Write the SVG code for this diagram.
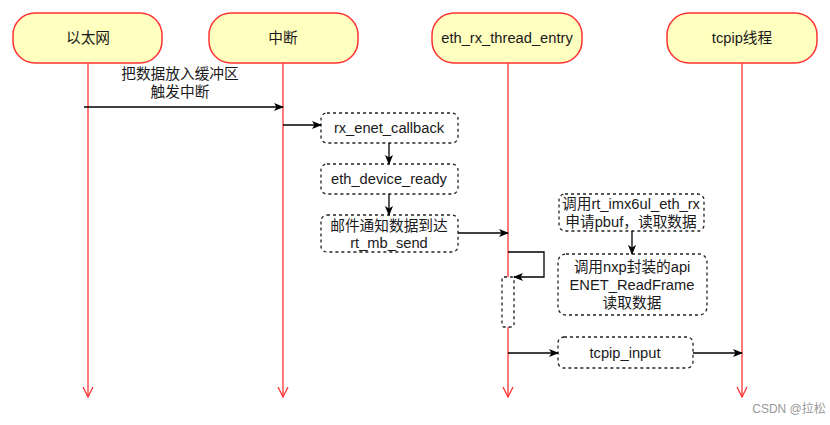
<svg xmlns="http://www.w3.org/2000/svg" width="830" height="425" viewBox="0 0 830 425">
<style>
.hdr{fill:#ffffc0;stroke:#ff3333;stroke-width:1.5}
.life{stroke:#ff3333;stroke-width:1.3;fill:none}
.box{fill:#fff;stroke:#222;stroke-width:1.3;stroke-dasharray:3,3}
.msg{stroke:#000;stroke-width:1.3;fill:none}
text{font-family:"Liberation Sans","Noto Sans CJK SC",Arial,sans-serif;font-size:14.7px;fill:#1a1a1a;text-anchor:middle}
</style>
<defs>
<marker id="ah" viewBox="0 0 10 10" refX="9" refY="5" markerWidth="10" markerHeight="10" markerUnits="userSpaceOnUse" orient="auto">
<path d="M0,1 L10,5 L0,9 L2.5,5 z" fill="#000"/>
</marker>
<marker id="open" viewBox="0 0 12 12" refX="11" refY="6" markerWidth="12" markerHeight="12" markerUnits="userSpaceOnUse" orient="auto">
<path d="M1,1 L11,6 L1,11" fill="none" stroke="#ff3333" stroke-width="1.3"/>
</marker>
</defs>
<rect width="830" height="425" fill="#fff"/>

<g id="lifelines">
<line class="life" x1="88" y1="63" x2="88" y2="397" marker-end="url(#open)"/>
<line class="life" x1="283" y1="63" x2="283" y2="397" marker-end="url(#open)"/>
<line class="life" x1="508" y1="63" x2="508" y2="397" marker-end="url(#open)"/>
<line class="life" x1="742" y1="63" x2="742" y2="397" marker-end="url(#open)"/>
</g>

<g id="n-ethernet"><rect class="hdr" x="13" y="13" width="149" height="50" rx="22"/><text x="88" y="43">以太网</text></g>
<g id="n-irq"><rect class="hdr" x="209" y="13" width="149" height="50" rx="22"/><text x="283" y="43">中断</text></g>
<g id="n-thread"><rect class="hdr" x="432" y="13" width="150" height="50" rx="22"/><text x="507" y="43">eth_rx_thread_entry</text></g>
<g id="n-tcpip"><rect class="hdr" x="667" y="13" width="150" height="50" rx="22"/><text x="742" y="43">tcpip线程</text></g>

<g id="n-callback"><rect class="box" x="321" y="113" width="137" height="30" rx="6"/><text x="389" y="133">rx_enet_callback</text></g>
<g id="n-ready"><rect class="box" x="321" y="164" width="137" height="30" rx="6"/><text x="389" y="184">eth_device_ready</text></g>
<g id="n-mbsend"><rect class="box" x="321" y="215" width="137" height="37" rx="6"/><text x="389" y="231">邮件通知数据到达</text><text x="389" y="248">rt_mb_send</text></g>
<g id="n-imx"><rect class="box" x="559" y="194" width="145" height="37" rx="6"/><text x="631" y="209">调用rt_imx6ul_eth_rx</text><text x="631" y="227">申请pbuf，读取数据</text></g>
<g id="n-nxp"><rect class="box" x="558" y="254" width="149" height="61" rx="8"/><text x="632" y="272">调用nxp封装的api</text><text x="632" y="290">ENET_ReadFrame</text><text x="632" y="308">读取数据</text></g>
<g id="n-act"><rect class="box" x="502" y="277" width="12" height="50" rx="2"/></g>
<g id="n-input"><rect class="box" x="558" y="337" width="135" height="31" rx="6"/><text x="625" y="358">tcpip_input</text></g>

<g id="connectors">
<line class="msg" x1="84" y1="107" x2="283" y2="107" marker-end="url(#ah)"/>
<text x="180" y="79">把数据放入缓冲区</text>
<text x="180" y="97">触发中断</text>
<line class="msg" x1="283" y1="125" x2="321" y2="125" marker-end="url(#ah)"/>
<line class="msg" x1="389" y1="143" x2="389" y2="164" marker-end="url(#ah)"/>
<line class="msg" x1="389" y1="194" x2="389" y2="215" marker-end="url(#ah)"/>
<line class="msg" x1="458" y1="233" x2="508" y2="233" marker-end="url(#ah)"/>
<polyline class="msg" points="508,252 544,252 544,277 514,277" marker-end="url(#ah)"/>
<line class="msg" x1="632" y1="231" x2="632" y2="254" marker-end="url(#ah)"/>
<line class="msg" x1="508" y1="353" x2="558" y2="353" marker-end="url(#ah)"/>
<line class="msg" x1="693" y1="353" x2="742" y2="353" marker-end="url(#ah)"/>
</g>

<text x="789" y="413" style="font-size:12px;fill:#999">CSDN @拉松</text>
</svg>
